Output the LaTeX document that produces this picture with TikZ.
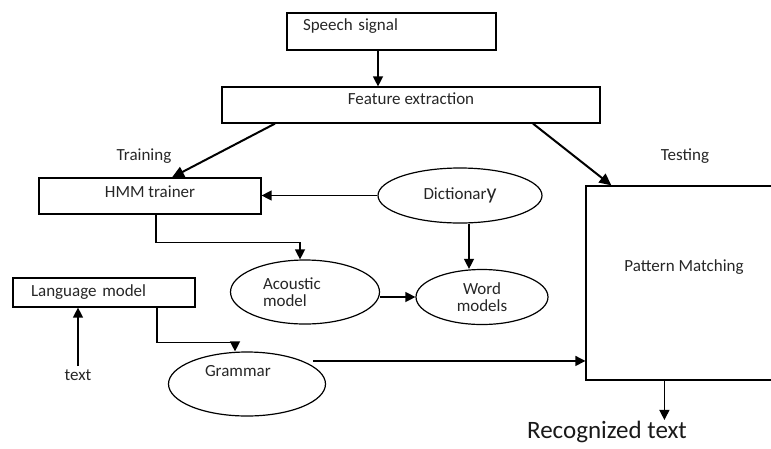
\documentclass[tikz,border=0pt]{standalone}
\usepackage{fontspec}
\setmainfont{Carlito}
\usetikzlibrary{arrows.meta,shapes.geometric}

\begin{document}
\begin{tikzpicture}[x=1pt,y=-1pt,
        box/.style={draw,rectangle,line width=1.2pt,inner sep=0pt,font=\fontsize{17}{17}\selectfont,text=black!85},
        oval/.style={draw,ellipse,line width=1.2pt,inner sep=0pt,font=\fontsize{17}{17}\selectfont,text=black!85},
        lbl/.style={font=\fontsize{17}{17}\selectfont,text=black!85},
        arr/.style={line width=1.3pt,-{Triangle[length=10pt,width=10pt]}},
        bigarr/.style={line width=2pt,-{Triangle[length=12pt,width=11pt]}}]
        \useasboundingbox (0,0) rectangle (771,448);
        \clip (0,0) rectangle (771,448);
        \node[box,minimum width=209pt,minimum height=37pt,text width=177pt,align=left,text depth=13pt] (speech) at (391.5,31.5) {Speech signal};
        \node[box,minimum width=378pt,minimum height=36pt,text depth=13pt] (feat) at (411,105) {Feature extraction};
        \node[box,minimum width=222pt,minimum height=36pt,text depth=9pt] (hmm) at (150,196) {HMM trainer};
        \node[box,minimum width=182pt,minimum height=29pt,text width=146pt,align=left] (lang) at (104,292.5) {Language model};
        \node[box,minimum width=196pt,minimum height=194pt,text depth=34pt] (pattern) at (684,283) {Pattern Matching};
        \node[oval,minimum width=164pt,minimum height=55pt] (dict) at (460,195.5) {Dictionar{\fontsize{22}{22}\selectfont y}};
        \node[oval,minimum width=149pt,minimum height=64pt,text width=84pt,align=left] (acoustic) at (305,292) {Acoustic\\model};
        \node[oval,minimum width=132pt,minimum height=55pt,align=center] (word) at (482,297) {Word\\models};
        \node[oval,minimum width=157pt,minimum height=64pt,text width=84pt,align=left,text depth=26pt] (grammar) at (247,384) {Grammar};
        \node[lbl] (training) at (144,156) {Training};
        \node[lbl] (testing) at (685,156) {Testing};
        \node[lbl] (txt) at (78,375) {text};
        \node[font=\fontsize{25}{25}\selectfont,text=black!90,inner sep=1pt] (rec) at (607,432) {Recognized text};

        \coordinate (s1) at ([xshift=-13.5pt]speech.south);
        \draw[arr] (s1) -- (s1 |- feat.north);
        \draw[bigarr] ([xshift=-136pt]feat.south) -- ([xshift=22pt]hmm.north);
        \draw[bigarr] ([xshift=122pt]feat.south) -- ([xshift=26pt]pattern.north west);
        \draw[arr] (dict.west) -- (dict.west -| hmm.east);
        \draw[arr] ([xshift=6pt]hmm.south) -- ++(0,28) -| ([xshift=-5pt]acoustic.north);
        \coordinate (d1) at ([xshift=9pt]dict.south);
        \draw[arr] (d1) -- (d1 |- word.north);
        \draw[arr] ([yshift=-5pt]acoustic.east) -- (word.west);
        \draw[arr] (txt.north) -- (txt.north |- lang.south);
        \draw[arr] ([xshift=53pt]lang.south) -- ++(0,35) -| ([xshift=-12pt]grammar.north);
        \coordinate (g1) at ([xshift=10pt]grammar.north east);
        \draw[arr] (g1) -- (g1 -| pattern.west);
        \coordinate (p1) at ([xshift=79pt]pattern.south west);
        \draw[arr] (p1) -- (p1 |- rec.north);
    \end{tikzpicture}
\end{document}
